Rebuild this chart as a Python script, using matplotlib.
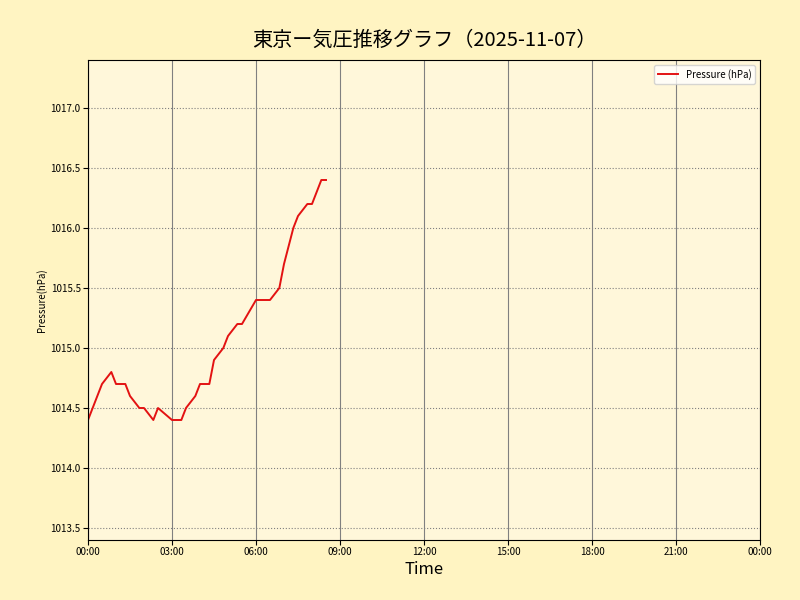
import matplotlib
matplotlib.use("Agg")
import matplotlib.pyplot as plt
import matplotlib.dates as mdates
import numpy as np
from datetime import datetime, timedelta

plt.rcParams['font.family'] = ['Noto Sans CJK JP', 'DejaVu Sans']

title = "東京ー気圧推移グラフ（2025-11-07）"
minutes = [0, 30, 50, 60, 80, 90, 110, 120, 140, 150, 180, 200, 210, 230, 240,
           260, 270, 290, 300, 320, 330, 360, 390, 410, 420, 440, 450, 470, 480,
           500, 510]
pressure = [1014.4, 1014.7, 1014.8, 1014.7, 1014.7, 1014.6, 1014.5, 1014.5,
            1014.4, 1014.5, 1014.4, 1014.4, 1014.5, 1014.6, 1014.7, 1014.7,
            1014.9, 1015.0, 1015.1, 1015.2, 1015.2, 1015.4, 1015.4, 1015.5,
            1015.7, 1016.0, 1016.1, 1016.2, 1016.2, 1016.4, 1016.4]

base = datetime(2025, 11, 7)
times = [base + timedelta(minutes=m) for m in minutes]

fig = plt.figure(figsize=(8, 6), dpi=100, facecolor='#fff4c2')
ax = fig.add_axes([0.11, 0.10, 0.84, 0.80])
ax.set_facecolor('#fff7da')

ax.plot(times, pressure, color='#e31212', linewidth=1.4, label='Pressure (hPa)')

ax.set_xlim(base, base + timedelta(days=1))
ax.set_ylim(min(pressure) - 1.0, max(pressure) + 1.0)
ax.xaxis.set_major_locator(mdates.HourLocator(interval=3))
ax.xaxis.set_major_formatter(mdates.DateFormatter('%H:%M'))
ax.yaxis.set_major_locator(matplotlib.ticker.MultipleLocator(0.5))
ax.yaxis.set_major_formatter(matplotlib.ticker.FormatStrFormatter('%.1f'))
ax.tick_params(labelsize=7, pad=1.8)

ax.grid(axis='x', color='gray', linestyle='-', linewidth=0.8)
ax.grid(axis='y', color='gray', linestyle=':', linewidth=0.8)

ax.set_title(title, fontsize=14.5, pad=10)
ax.set_xlabel('Time', fontsize=12, labelpad=2.5)
ax.set_ylabel('Pressure(hPa)', fontsize=7, labelpad=2.5)
ax.legend(loc='upper right', fontsize=7)

fig.savefig('out.png', dpi=100, facecolor=fig.get_facecolor())
